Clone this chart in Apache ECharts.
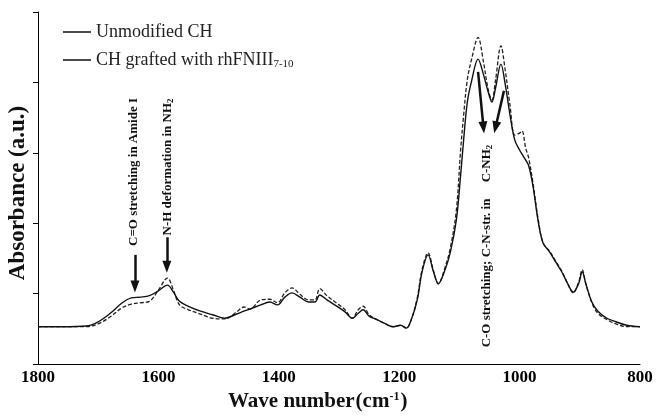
<!DOCTYPE html>
<html><head><meta charset="utf-8">
<script src="https://cdn.jsdelivr.net/npm/echarts@6/dist/echarts.min.js"></script>
<style>html,body{margin:0;padding:0;background:#fff}#c{width:656px;height:416px}</style>
</head><body><div id="c"></div>
<script>
const wavenumbers = [1800,1760,1720,1700,1680,1660,1645,1630,1615,1600,1585,1575,1565,1550,1530,1510,1490,1470,1458,1448,1430,1415,1402,1390,1378,1365,1350,1340,1332,1320,1300,1290,1278,1268,1260,1250,1237,1225,1210,1198,1188,1180,1170,1162,1152,1143,1135,1125,1115,1105,1098,1093,1087,1080,1069,1060,1052,1046,1040,1031,1024,1016,1008,1000,996,990,985,978,969,961,950,940,930,920,911,902,896,890,880,870,855,840,822,800];
const unmodified = [0.53,0.53,0.54,0.60,0.72,0.87,0.94,0.95,0.97,1.04,1.12,1.02,0.89,0.82,0.75,0.70,0.65,0.71,0.75,0.78,0.84,0.88,0.84,0.95,1.01,0.95,0.88,0.88,0.98,0.91,0.80,0.74,0.65,0.72,0.77,0.68,0.63,0.58,0.53,0.55,0.51,0.63,0.91,1.31,1.55,1.31,1.14,1.31,1.59,2.05,2.68,3.18,3.71,4.01,4.33,4.11,3.86,3.72,3.92,4.26,3.98,3.54,3.18,3.04,2.98,2.90,2.82,2.54,2.02,1.72,1.59,1.45,1.31,1.14,1.02,1.14,1.31,1.14,0.88,0.75,0.65,0.60,0.55,0.53];
const grafted = [0.53,0.53,0.53,0.57,0.67,0.80,0.85,0.87,0.89,1.05,1.22,1.05,0.84,0.77,0.71,0.65,0.64,0.74,0.81,0.78,0.91,0.92,0.87,1.01,1.08,0.99,0.91,0.91,1.07,0.97,0.84,0.77,0.65,0.77,0.82,0.70,0.63,0.58,0.53,0.55,0.51,0.63,0.94,1.34,1.58,1.32,1.14,1.34,1.65,2.19,3.04,3.53,4.03,4.32,4.64,4.29,3.89,3.75,4.03,4.52,4.18,3.68,3.25,3.28,3.31,3.07,2.93,2.58,2.05,1.72,1.60,1.46,1.32,1.14,1.01,1.16,1.34,1.14,0.87,0.72,0.63,0.57,0.53,0.53];
const xTicks = [1800,1600,1400,1200,1000,800];
const seriesNames = ['Unmodified CH','CH grafted with rhFNIII'];
// arrows: [fromWn, fromAbs, toWn, toAbs]
const arrows = [[1639,1.55,1639,1.10],[1586,1.80,1586,1.38],[1069,4.15,1060,3.36],[1026,3.88,1040,3.36]];

const FONT = 'Liberation Serif';
const chart = echarts.init(document.getElementById('c'), null, {renderer:'canvas'});
const mk = (vals) => wavenumbers.map((w,i)=>[w, vals[i]]);
chart.setOption({
  animation:false,
  backgroundColor:'#fff',
  grid:{left:38,right:16,top:12,bottom:52},
  legend:{
    orient:'vertical', left:58, top:17, itemGap:8, itemWidth:28, itemHeight:1.5, icon:'rect',
    data:seriesNames,
    formatter:(n)=> n===seriesNames[1] ? n+'{sub|7-10}' : n,
    textStyle:{fontFamily:FONT, fontSize:18, color:'#222', lineHeight:20,
      rich:{sub:{fontFamily:FONT, fontSize:11, color:'#222', verticalAlign:'bottom', lineHeight:14, padding:[7,0,0,0]}}}
  },
  xAxis:{
    type:'value', min:800, max:1800, interval:200, inverse:true,
    axisLine:{lineStyle:{color:'#000',width:1}}, axisTick:{show:false}, splitLine:{show:false},
    axisLabel:{fontFamily:FONT, fontWeight:'bold', fontSize:17, color:'#000', margin:5,
      formatter:(v)=> xTicks.includes(v)? String(v):''}
  },
  yAxis:{
    type:'value', min:0, max:5, interval:1,
    axisLine:{show:true,lineStyle:{color:'#000',width:1}},
    axisTick:{show:true,inside:false,length:5,lineStyle:{color:'#000'}},
    axisLabel:{show:false}, splitLine:{show:false}
  },
  graphic:[
    {type:'text', left:228, top:391, style:{text:'Wave number{n|(cm}{sup|-1}{n|)}', font:'bold 21px '+FONT, fill:'#111',
      rich:{n:{fontFamily:FONT,fontWeight:'bold',fontSize:21,fill:'#111',padding:[0,0,0,1]}, sup:{fontFamily:FONT,fontWeight:'bold',fontSize:12,verticalAlign:'top',padding:[0,0,9,0]}}}},
    {type:'text', x:18, y:193, rotation:Math.PI/2, style:{text:'Absorbance (a.u.)', font:'bold 23px '+FONT, fill:'#111', textAlign:'center', textVerticalAlign:'middle'}},
    {type:'text', x:134, y:172, rotation:Math.PI/2, style:{text:'C=O stretching in Amide I', font:'bold 13px '+FONT, fill:'#111', textAlign:'center', textVerticalAlign:'middle'}},
    {type:'text', x:168, y:167, rotation:Math.PI/2, style:{text:'N-H deformation in NH{s|2}', font:'bold 13px '+FONT, fill:'#111', textAlign:'center', textVerticalAlign:'middle',
      rich:{s:{fontFamily:FONT,fontWeight:'bold',fontSize:9,verticalAlign:'bottom',padding:[5,0,0,0]}}}},
    {type:'text', x:487, y:246, rotation:Math.PI/2, style:{text:'C-O stretching; C-N-str. in     C-NH{s|2}', font:'bold 13px '+FONT, fill:'#111', textAlign:'center', textVerticalAlign:'middle',
      rich:{s:{fontFamily:FONT,fontWeight:'bold',fontSize:9,verticalAlign:'bottom',padding:[5,0,0,0]}}}}
  ],
  series:[
    {name:seriesNames[0], type:'line', data:mk(unmodified), smooth:0.35, symbol:'none',
      itemStyle:{color:'#111'}, lineStyle:{color:'#111', width:1.4, type:'solid'}, z:3,
      markLine:{silent:true, symbol:['none','triangle'], symbolSize:[9,12], label:{show:false},
        lineStyle:{color:'#111', width:2.5, type:'solid'}, emphasis:{disabled:true},
        data: arrows.map(a=>[{coord:[a[0],a[1]]},{coord:[a[2],a[3]]}])}},
    {name:seriesNames[1], type:'line', data:mk(grafted), smooth:0.35, symbol:'none',
      itemStyle:{color:'#111'}, lineStyle:{color:'#222', width:1.3, type:[4,2]}, z:2}
  ]
});
</script></body></html>
